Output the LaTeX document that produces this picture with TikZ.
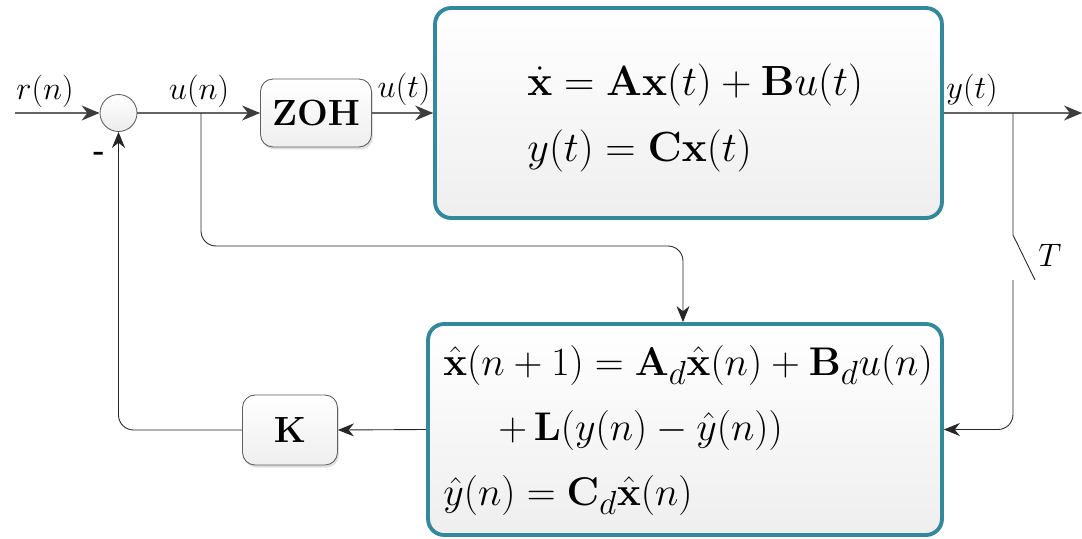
\documentclass[tikz,border=0pt]{standalone}
\usepackage{graphicx}
\usepackage{amsmath}
\usetikzlibrary{arrows.meta,shadows}
\definecolor{boxteal}{RGB}{52,136,156}
\definecolor{linegray}{RGB}{100,100,100}
\definecolor{tipgray}{RGB}{60,60,60}
\newcommand{\eqA}[1]{\scalebox{0.965}{\fontsize{24.88}{28}\selectfont #1}}
\newcommand{\eqB}[1]{\scalebox{0.916}{\fontsize{24.88}{28}\selectfont #1}}
\newcommand{\lblt}[1]{\scalebox{1.07}{\fontsize{17.28}{20}\selectfont #1}}
\begin{document}
\begin{tikzpicture}[x=0.02cm,y=-0.02cm,
  big/.style={draw=boxteal, line width=2.2pt, rounded corners=0.32cm, top color=white, bottom color=gray!13},
  blk/.style={draw=gray!75!black, line width=0.5pt, rounded corners=0.25cm, top color=white, bottom color=gray!13,
    drop shadow={opacity=0.25, shadow xshift=0.03cm, shadow yshift=-0.05cm}},
  sumc/.style={circle, draw=gray!75!black, line width=0.5pt, minimum size=0.74cm, inner sep=0pt, top color=white, bottom color=gray!15},
  sig/.style={draw=linegray, line width=0.8pt, -{Stealth[length=0.36cm,width=0.3cm,color=tipgray]}},
  fb/.style={draw=black!85, line width=0.5pt, rounded corners=0.3cm, -{Stealth[length=0.32cm,width=0.26cm]}},
  eq/.style={anchor=base west, inner sep=0pt}
]
\useasboundingbox (0,0) rectangle (1082,538);
% nodes
\coordinate (in) at (15,113);
\node[sumc] (s) at (118.5,113) {};
\node[blk, minimum width=2.22cm, minimum height=1.36cm] (zoh) at (316,113) {\fontsize{20.74}{24}\selectfont$\mathbf{ZOH}$};
\node[big, minimum width=10.14cm, minimum height=4.2cm] (plant) at (688.5,113) {};
\node[big, minimum width=10.28cm, minimum height=4.22cm] (obs) at (685,429.5) {};
\node[blk, minimum width=1.9cm, minimum height=1.4cm] (K) at (290,430) {\fontsize{20.74}{24}\selectfont$\mathbf{K}$};
\coordinate (out) at (1082,113);
\coordinate (tap) at (1013,113);
\coordinate (un) at (201,113);
\coordinate (swa) at (1013,235);
\coordinate (swb) at (1035,280);
\coordinate (swc) at (1013,280);
% equations
\node[eq] (e1) at (527,95) {\eqA{$\dot{\mathbf{x}} = \mathbf{A}\mathbf{x}(t) + \mathbf{B}u(t)$}};
\node[eq] (e2) at (527,161) {\eqA{$y(t) = \mathbf{C}\mathbf{x}(t)$}};
\node[eq] (f1) at (443,375) {\eqB{$\hat{\mathbf{x}}(n+1) = \mathbf{A}_d\hat{\mathbf{x}}(n) + \mathbf{B}_d u(n)$}};
\node[eq] (f2) at (498,440) {\eqB{$+\,\mathbf{L}(y(n) - \hat{y}(n))$}};
\node[eq] (f3) at (443,505) {\eqB{$\hat{y}(n) = \mathbf{C}_d\hat{\mathbf{x}}(n)$}};
% labels
\node (lr) at (45,91) {\lblt{$r(n)$}};
\node (lun) at (199,91) {\lblt{$u(n)$}};
\node (lut) at (404,89) {\lblt{$u(t)$}};
\node (lyt) at (972,90) {\lblt{$y(t)$}};
\node (lT) at (1050,255) {\lblt{$T$}};
\node[font=\fontsize{17.28}{20}\selectfont\bfseries] (lm) at (99,156) {-};
% shadows of upper signal lines
\begin{scope}[draw=gray!25, line width=1.6pt, yshift=-0.06cm]
\draw (in) -- (s.west);
\draw (s.east) -- (zoh.west);
\draw (zoh.east) -- (plant.west);
\draw (plant.east) -- (out);
\end{scope}
% upper signal lines
\draw[sig] (in) -- (s.west);
\draw[sig] (s.east) -- (zoh.west);
\draw[sig] (zoh.east) -- (plant.west);
\draw[sig] (plant.east) -- (out);
% branch u(n) to observer
\draw[fb] (un) |- (683,246) -- (obs.north -| 683,0);
% sampler
\draw[black!85, line width=0.5pt] (tap) -- (swa) -- (swb);
\draw[fb] (swc) |- (obs.east);
% feedback
\draw[fb] (obs.west) -- (K.east);
\draw[fb] (K.west) -| (s.south);
\end{tikzpicture}
\end{document}
